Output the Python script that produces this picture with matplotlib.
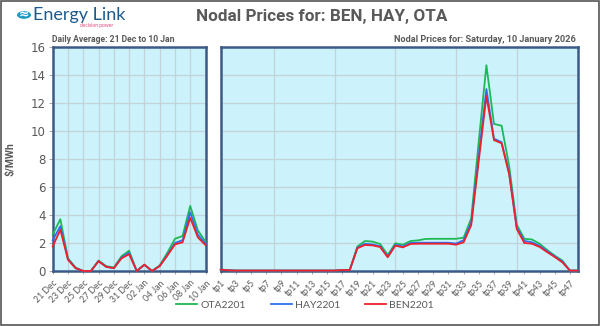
import matplotlib
matplotlib.use("Agg")
import matplotlib.pyplot as plt
from matplotlib.patches import Rectangle, Circle

# ---- data ----
days = ["21 Dec", "22 Dec", "23 Dec", "24 Dec", "25 Dec", "26 Dec", "27 Dec", "28 Dec",
        "29 Dec", "30 Dec", "31 Dec", "01 Jan", "02 Jan", "03 Jan", "04 Jan", "05 Jan",
        "06 Jan", "07 Jan", "08 Jan", "09 Jan", "10 Jan"]
daily_ota = [2.6, 3.7, 0.9, 0.25, 0.0, 0.0, 0.75, 0.35, 0.25, 1.05, 1.45, 0.0, 0.45, 0.0,
             0.4, 1.3, 2.3, 2.5, 4.65, 2.9, 2.1]
daily_hay = [2.2, 3.2, 0.85, 0.2, 0.0, 0.0, 0.7, 0.3, 0.2, 0.95, 1.3, 0.0, 0.45, 0.0,
             0.35, 1.15, 2.0, 2.2, 4.2, 2.6, 1.95]
daily_ben = [1.75, 2.95, 0.8, 0.2, 0.0, 0.0, 0.7, 0.3, 0.2, 0.9, 1.2, 0.0, 0.45, 0.0,
             0.35, 1.1, 1.9, 2.05, 3.8, 2.4, 1.85]

periods = ["tp%d" % i for i in range(1, 49)]
tp_ota = [0.1, 0.05, 0.03, 0.03, 0.03, 0.03, 0.03, 0.03, 0.03, 0.03, 0.03, 0.03, 0.03, 0.03,
          0.03, 0.03, 0.07, 0.07, 1.75, 2.14, 2.1, 1.93, 1.14, 1.98, 1.88, 2.14, 2.19, 2.29,
          2.3, 2.3, 2.3, 2.3, 2.38, 3.76, 9.3, 14.7, 10.5, 10.38, 7.5, 3.3, 2.3, 2.25,
          1.95, 1.5, 1.1, 0.75, 0.03, 0.03]
tp_hay = [0.1, 0.05, 0.03, 0.03, 0.03, 0.03, 0.03, 0.03, 0.03, 0.03, 0.03, 0.03, 0.03, 0.03,
          0.03, 0.03, 0.07, 0.07, 1.66, 1.94, 1.9, 1.77, 1.03, 1.87, 1.75, 2.0, 2.02, 2.02,
          2.02, 2.02, 2.02, 1.96, 2.2, 3.45, 8.3, 13.0, 9.45, 9.2, 7.0, 3.1, 2.15, 2.05,
          1.8, 1.42, 1.05, 0.68, 0.03, 0.03]
tp_ben = [0.1, 0.05, 0.03, 0.03, 0.03, 0.03, 0.03, 0.03, 0.03, 0.03, 0.03, 0.03, 0.03, 0.03,
          0.03, 0.03, 0.07, 0.07, 1.62, 1.86, 1.83, 1.71, 0.98, 1.81, 1.69, 1.93, 1.95, 1.95,
          1.95, 1.95, 1.95, 1.88, 2.05, 3.28, 7.9, 12.5, 9.35, 9.12, 6.9, 3.0, 2.0, 1.95,
          1.72, 1.35, 1.0, 0.62, 0.03, 0.03]

series_names = ["OTA2201", "HAY2201", "BEN2201"]
colors = ["#1DB954", "#2E6FF0", "#F0202A"]

GRAY = "#595959"
FRAME = "#3C5A88"
BG = "#CCF3FC"
FONT = ["Lato", "DejaVu Sans"]
BFONT = ["Roboto", "DejaVu Sans"]

fig = plt.figure(figsize=(6.0, 3.26), dpi=100)
fig.patch.set_facecolor("white")
fig.patches.append(Rectangle((0.001, 0.002), 0.997, 0.995, transform=fig.transFigure,
                             fill=False, edgecolor="#555555", linewidth=1.2))

W, H = 600.0, 326.0
def ax_rect(x0, x1, ytop, ybot):
    return [x0 / W, (H - ybot) / H, (x1 - x0) / W, (ybot - ytop) / H]

axL = fig.add_axes(ax_rect(52.7, 205.5, 47, 271))
axR = fig.add_axes(ax_rect(220.7, 577.5, 47, 271))

def style(ax, labels, tick_every, grid_pos, show_y):
    ax.set_facecolor(BG)
    n = len(labels)
    ax.set_xlim(0, n - 1)
    ax.set_ylim(0, 16)
    ax.set_yticks(range(0, 17, 2))
    ax.grid(False)
    for y in range(2, 16, 2):
        ax.axhline(y, color="#C4D3D8", linewidth=0.9, zorder=1)
    for x in grid_pos:
        ax.axvline(x, color="#C4D3D8", linewidth=0.9, zorder=1)
    ticks = list(range(0, n, tick_every))
    ax.set_xticks(ticks)
    ax.set_xticklabels([labels[i] for i in ticks], rotation=45, ha="right",
                       rotation_mode="anchor", fontsize=6.3, color=GRAY, family=FONT)
    ax.tick_params(axis="x", length=2.5, width=0.6, color="#999999", pad=3)
    if show_y:
        ax.tick_params(axis="y", length=3, width=0.6, color="#999999", labelsize=8.5,
                       labelcolor=GRAY, pad=2)
    else:
        ax.tick_params(axis="y", length=0, labelleft=False)
    for s in ax.spines.values():
        s.set_color(FRAME)
        s.set_linewidth(1.8)

style(axL, days, 2, range(2, 21, 2), True)
style(axR, periods, 2, [7, 15, 23, 31, 39, 47], False)

for vals, c, name in zip([daily_ota, daily_hay, daily_ben], colors, series_names):
    axL.plot(range(len(days)), vals, color=c, linewidth=1.3, zorder=3, clip_on=False)
for vals, c, name in zip([tp_ota, tp_hay, tp_ben], colors, series_names):
    axR.plot(range(len(periods)), vals, color=c, linewidth=1.3, zorder=3, label=name,
             clip_on=False)

# titles
fig.text(322 / W, 1 - 17 / H, "Nodal Prices for: BEN, HAY, OTA", ha="center", va="center",
         fontsize=12.3, fontweight="bold", color=GRAY, family=BFONT)
fig.text(52 / W, 1 - 40 / H, "Daily Average: 21 Dec to 10 Jan", ha="left", va="center",
         fontsize=6.2, fontweight="bold", color=GRAY, family=BFONT)
fig.text(576 / W, 1 - 40 / H, "Nodal Prices for: Saturday, 10 January 2026", ha="right",
         va="center", fontsize=6.6, fontweight="bold", color=GRAY, family=BFONT)
fig.text(10 / W, 1 - 159 / H, "$/MWh", rotation=90, ha="center", va="center",
         fontsize=7.5, fontweight="bold", color=GRAY, family=BFONT)

# logo
fig.patches.append(Circle((24 / W, 1 - 15 / H), 7 / W, transform=fig.transFigure,
                          facecolor="#1A9BC4", edgecolor="none"))
fig.text(24 / W, 1 - 15 / H, "≈", ha="center", va="center", fontsize=9,
         color="white", fontweight="bold", family=["DejaVu Sans"])
fig.text(33 / W, 1 - 15 / H, "Energy Link", ha="left", va="center", fontsize=13,
         color="#1F5A8C", family=FONT)
fig.text(97 / W, 1 - 25 / H, "decision power", ha="center", va="center", fontsize=3.5,
         color="#E0457B", family=FONT)

# legend
handles, labs = axR.get_legend_handles_labels()
fig.legend(handles, labs, loc="center", bbox_to_anchor=(305 / W, 1 - 305 / H), ncol=3,
           frameon=False, handlelength=2.0, columnspacing=2.4,
           handletextpad=0.3, labelcolor=GRAY, prop={"family": FONT, "size": 7.5})

fig.savefig("out.png", dpi=100, facecolor="white")
